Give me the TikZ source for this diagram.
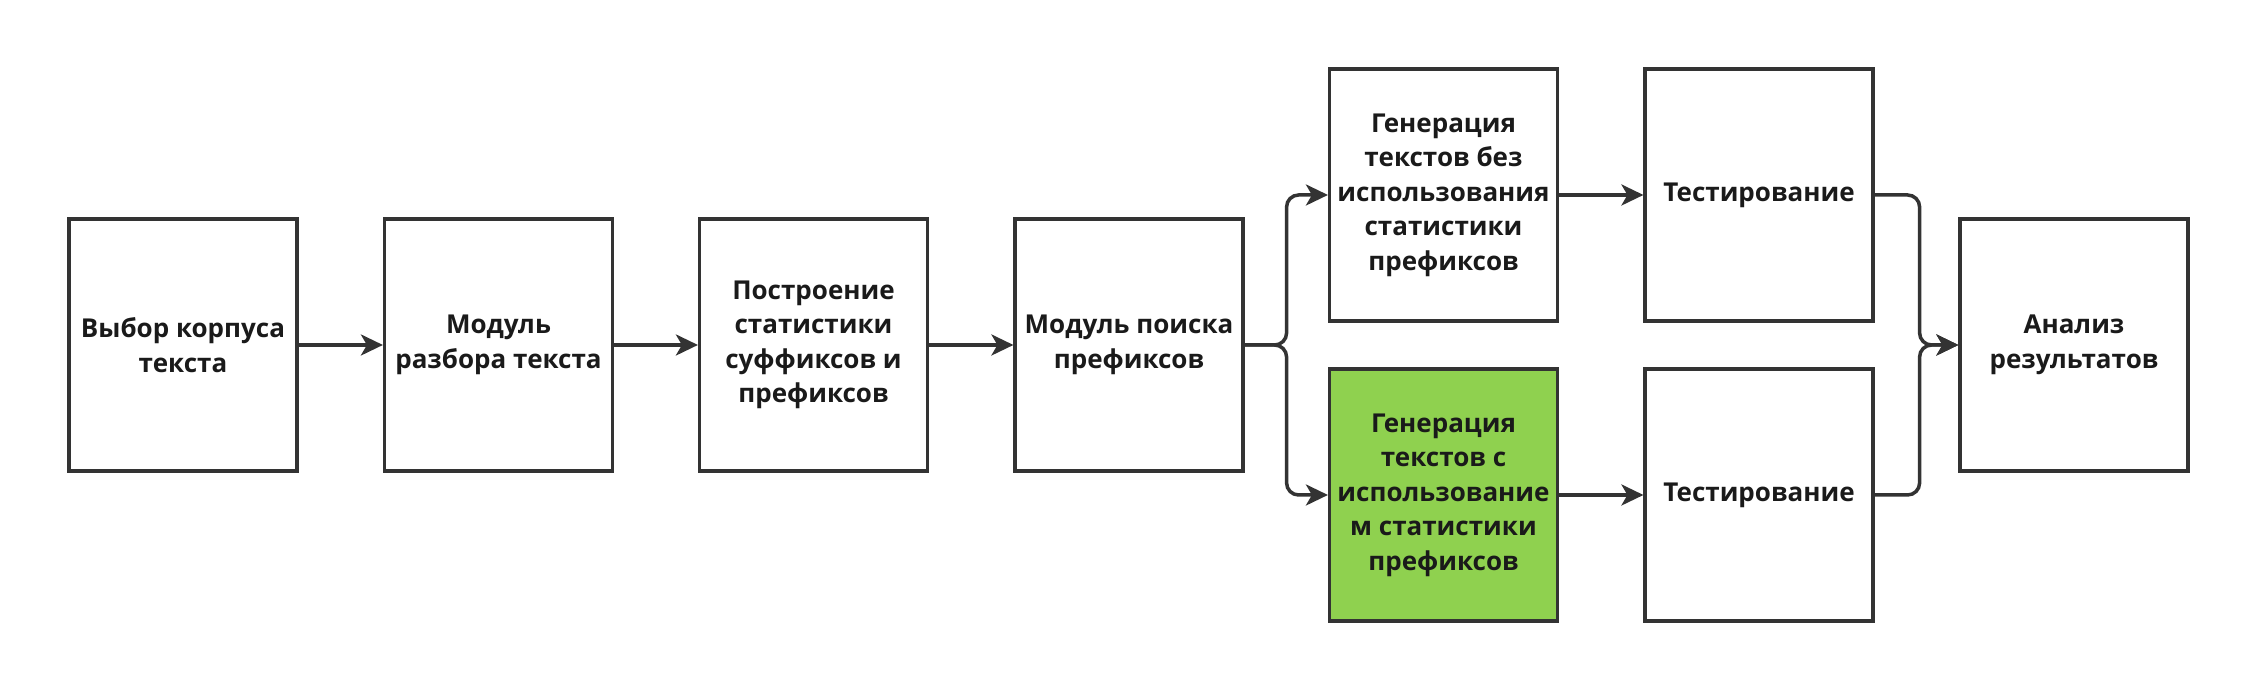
\documentclass[tikz,border=0pt]{standalone}
\usepackage{fontspec}
\setmainfont{Open Sans}
\usetikzlibrary{arrows.meta,positioning,calc}

\definecolor{ink}{HTML}{333333}
\definecolor{textink}{HTML}{1A1A1A}
\definecolor{leafgreen}{HTML}{8FD14F}

\begin{document}
\begin{tikzpicture}[
    stage/.style={draw=ink, line width=0.9pt, fill=white, align=center, minimum width=2.28cm, minimum height=2.52cm, inner sep=1pt, text=textink, font=\fontsize{7.4}{9.8}\selectfont\bfseries},
    flow/.style={-{Stealth[length=2.2mm, width=2.1mm, inset=0.6mm]}, line width=1pt, draw=ink, rounded corners=0.12cm}
]
    \useasboundingbox (0,0) rectangle (22.58,6.91);

    \node[stage] (corpus) at (1.83,3.46) {Выбор корпуса\\текста};
    \node[stage] (parse) at (4.985,3.46) {Модуль\\разбора текста};
    \node[stage] (stats) at (8.135,3.46) {Построение\\статистики\\суффиксов и\\префиксов};
    \node[stage] (search) at (11.29,3.46) {Модуль поиска\\префиксов};
    \node[stage] (genplain) at (14.435,4.96) {Генерация\\текстов без\\использования\\статистики\\префиксов};
    \node[stage, fill=leafgreen] (genstat) at (14.435,1.96) {Генерация\\текстов с\\использование\\м статистики\\префиксов};
    \node[stage] (testplain) at (17.59,4.96) {Тестирование};
    \node[stage] (teststat) at (17.59,1.96) {Тестирование};
    \node[stage] (analysis) at (20.74,3.46) {Анализ\\результатов};

    \draw[flow] (corpus) -- (parse);
    \draw[flow] (parse) -- (stats);
    \draw[flow] (stats) -- (search);
    \draw[flow] (search.east) -- ++(0.42,0) |- (genplain.west);
    \draw[flow] (search.east) -- ++(0.42,0) |- (genstat.west);
    \draw[flow] (genplain) -- (testplain);
    \draw[flow] (genstat) -- (teststat);
    \draw[flow] (testplain.east) -- ++(0.45,0) |- (analysis.west);
    \draw[flow] (teststat.east) -- ++(0.45,0) |- (analysis.west);
\end{tikzpicture}
\end{document}
